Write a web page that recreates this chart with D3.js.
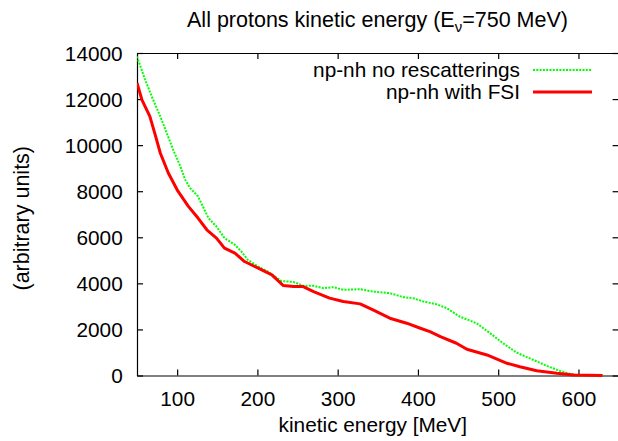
<!DOCTYPE html>
<html>
<head>
<meta charset="utf-8">
<script src="https://cdn.jsdelivr.net/npm/d3@7"></script>
<style>
  html, body { margin: 0; padding: 0; background: #fff; }
  svg { display: block; font-family: "Liberation Sans", Arial, Helvetica, sans-serif; }
</style>
</head>
<body>
<svg id="chart" width="618" height="441"></svg>
<script>
// ---- data ----
const seriesNames = ["np-nh no rescatterings", "np-nh with FSI"];
const energyNoResc = [50,60,70,79,87,95,104,110,116,126,133,139,149,159,172,180,188,201,213,222,230,245,257,270,282,295,307,328,344,365,382,394,407,423,436,452,473,490,506,523,544,560,577,590,602,630];
const countsNoResc = [13850,12848,11978,11250,10530,9805,9078,8500,8140,7774,7270,6835,6470,5965,5674,5383,5022,4730,4513,4296,4100,4060,3891,3891,3791,3835,3717,3748,3643,3574,3400,3357,3209,3096,2922,2557,2270,1835,1400,991,674,426,196,65,0,0];
const energyFSI = [50,56,66,72,79,89,101,114,126,137,149,159,172,184,201,218,232,245,257,270,290,307,328,344,365,386,403,415,428,448,461,486,511,527,548,573,594,630];
const countsFSI = [12700,11980,11250,10530,9660,8790,8000,7340,6835,6326,5965,5530,5313,4948,4661,4370,3910,3861,3861,3643,3357,3209,3109,2848,2487,2270,2052,1904,1687,1400,1139,891,530,383,209,96,20,0];
const xTicks = [100,200,300,400,500,600];
const yTicks = [0,2000,4000,6000,8000,10000,12000,14000];
const xDomain = [50, 650];
const yDomain = [0, 14000];

// ---- layout ----
const svg = d3.select("#chart");
const L = 137, R = 618.6, T = 53, B = 375.5;
const x = d3.scaleLinear().domain(xDomain).range([L, R]);
const y = d3.scaleLinear().domain(yDomain).range([B, T]);
const FS = 20.8;

// axes with inward ticks (gnuplot style)
const tickLen = 6;
const bottomAxis = svg.append("g").attr("transform", `translate(0,${B})`)
  .call(d3.axisBottom(x).tickValues(xTicks).tickSizeInner(-tickLen).tickSizeOuter(0).tickPadding(16));
const topAxis = svg.append("g").attr("transform", `translate(0,${T})`)
  .call(d3.axisTop(x).tickValues(xTicks).tickSizeInner(-tickLen).tickSizeOuter(0).tickFormat(""));
const leftAxis = svg.append("g").attr("transform", `translate(${L},0)`)
  .call(d3.axisLeft(y).tickValues(yTicks).tickSizeInner(-tickLen).tickSizeOuter(0).tickPadding(14.3).tickFormat(d3.format("d")));
const rightAxis = svg.append("g").attr("transform", `translate(${R},0)`)
  .call(d3.axisRight(y).tickValues(yTicks).tickSizeInner(-tickLen).tickSizeOuter(0).tickFormat(""));

[bottomAxis, topAxis, leftAxis, rightAxis].forEach(g => {
  g.selectAll(".domain").attr("stroke", "#000").attr("stroke-width", 1.2);
  g.selectAll(".tick line").attr("stroke", "#000").attr("stroke-width", 1.2);
  g.selectAll("text").attr("font-size", FS).attr("fill", "#000")
    .attr("font-family", "Liberation Sans, Arial, sans-serif");
});
bottomAxis.selectAll("text").attr("dy", null).attr("y", 30);
leftAxis.selectAll("text").attr("dy", "0.35em");

// clip for data
svg.append("clipPath").attr("id", "clip").append("rect")
  .attr("x", L).attr("y", T - 2).attr("width", R - L).attr("height", B - T + 4);

const line = d3.line().x(d => x(d[0])).y(d => y(d[1]));
const dNo = energyNoResc.map((e, i) => [e, countsNoResc[i]]);
const dFsi = energyFSI.map((e, i) => [e, countsFSI[i]]);

const plot = svg.append("g").attr("clip-path", "url(#clip)");
plot.append("path").datum(dNo).attr("d", line)
  .attr("fill", "none").attr("stroke", "#00ff00").attr("stroke-width", 2)
  .attr("stroke-dasharray", "2,1.3");
plot.append("path").datum(dFsi).attr("d", line)
  .attr("fill", "none").attr("stroke", "#ff0000").attr("stroke-width", 3)
  .attr("stroke-linejoin", "round");

// legend
const legend = svg.append("g");
const legendRows = [
  { name: seriesNames[0], color: "#00ff00", width: 2, dash: "2,1.3", y: 70 },
  { name: seriesNames[1], color: "#ff0000", width: 3, dash: null, y: 92 }
];
legendRows.forEach(r => {
  legend.append("text").attr("x", 520).attr("y", r.y + 7)
    .attr("text-anchor", "end").attr("font-size", FS).attr("fill", "#000")
    .text(r.name);
  legend.append("line").attr("x1", 533).attr("x2", 592).attr("y1", r.y).attr("y2", r.y)
    .attr("stroke", r.color).attr("stroke-width", r.width)
    .attr("stroke-dasharray", r.dash);
});

// title
const title = svg.append("text").attr("x", 377.5).attr("y", 26.5)
  .attr("text-anchor", "middle").attr("font-size", 21.5).attr("fill", "#000");
title.append("tspan").text("All protons kinetic energy (E");
title.append("tspan").attr("font-size", 15).attr("dy", 5).text("ν");
title.append("tspan").attr("dy", -5).text("=750 MeV)");

// axis labels
svg.append("text").attr("x", (L + R) / 2 - 5).attr("y", 432)
  .attr("text-anchor", "middle").attr("font-size", FS).attr("fill", "#000")
  .text("kinetic energy [MeV]");
svg.append("text").attr("transform", `translate(29,${(T + B) / 2 + 4}) rotate(-90)`)
  .attr("text-anchor", "middle").attr("font-size", 21.5).attr("fill", "#000")
  .text("(arbitrary units)");
</script>
</body>
</html>
